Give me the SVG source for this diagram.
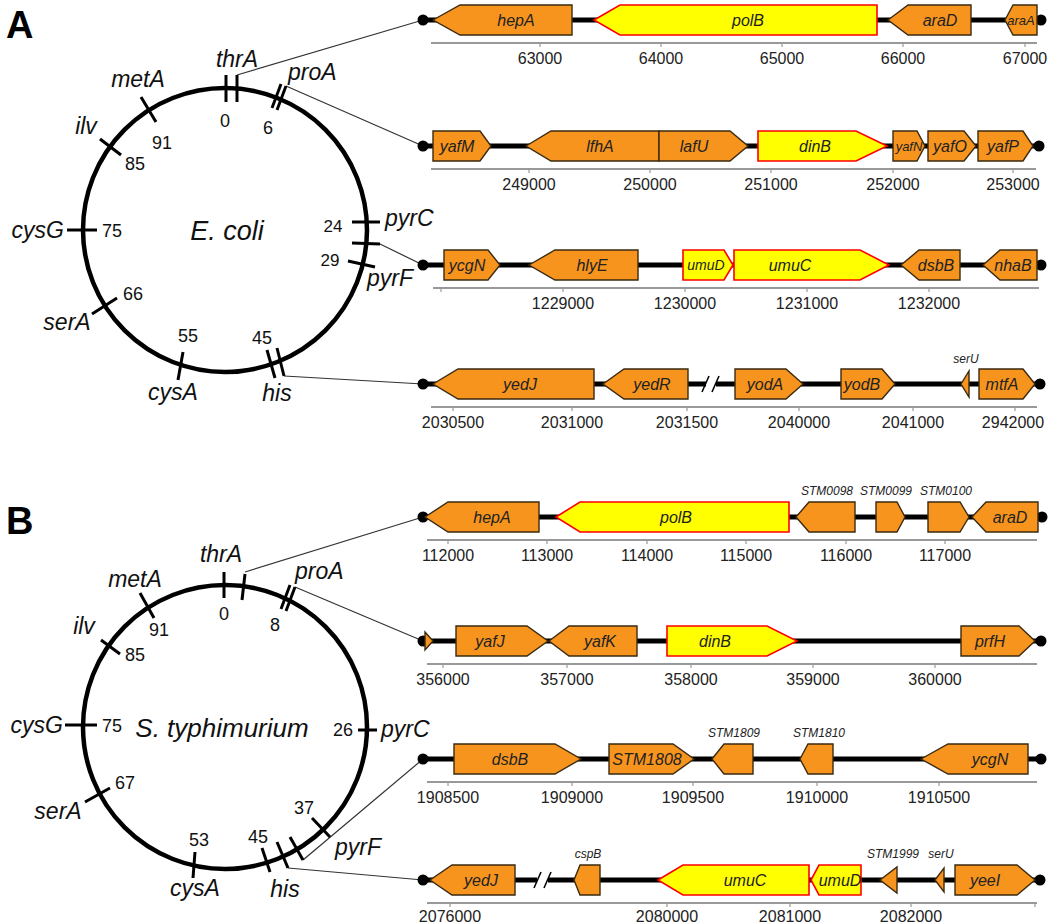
<svg xmlns="http://www.w3.org/2000/svg" width="1050" height="924" viewBox="0 0 1050 924">
<style>
.bg{fill:#fff}
.o{fill:#F7941D;stroke:#3a2a10;stroke-width:1.4;stroke-linejoin:miter}
.y{fill:#FFFF00;stroke:#FF0000;stroke-width:1.6}
.trk{stroke:#000;stroke-width:5;fill:none}
.dot{fill:#000}
.ax{stroke:#999;stroke-width:2;fill:none}
.axt{stroke:#999;stroke-width:1.2}
.gl{font-family:"Liberation Sans",Arial,sans-serif;font-style:italic;font-size:16px;fill:#222;text-anchor:middle}
.sl{font-family:"Liberation Sans",Arial,sans-serif;font-style:italic;font-size:12px;fill:#222;text-anchor:middle}
.tl{font-family:"Liberation Sans",Arial,sans-serif;font-size:16px;fill:#222;text-anchor:middle}
.cn{stroke:#333;stroke-width:1.2;fill:none}
.circ{fill:none;stroke:#000;stroke-width:4.5}
.ct{stroke:#000;stroke-width:3;fill:none}
.cl{font-family:"Liberation Sans",Arial,sans-serif;font-style:italic;font-size:23px;fill:#111}
.num{font-family:"Liberation Sans",Arial,sans-serif;font-size:18px;fill:#111;text-anchor:middle}
.sp{font-family:"Liberation Sans",Arial,sans-serif;font-style:italic;font-size:27px;fill:#111;text-anchor:middle}
.pl{font-family:"Liberation Sans",Arial,sans-serif;font-weight:bold;font-size:38px;fill:#000}
.m{text-anchor:middle}.s{text-anchor:start}.e{text-anchor:end}
</style>
<rect class="bg" x="0" y="0" width="1050" height="924"/>

<!-- Connectors -->
<g id="connectors">
<line class="cn" x1="237" y1="75" x2="423" y2="20"/>
<line class="cn" x1="286" y1="86" x2="423" y2="146"/>
<line class="cn" x1="380" y1="244" x2="423" y2="265"/>
<line class="cn" x1="284" y1="376" x2="423" y2="384"/>
<line class="cn" x1="245" y1="572" x2="423" y2="517"/>
<line class="cn" x1="295" y1="587" x2="423" y2="641"/>
<line class="cn" x1="303" y1="860" x2="423" y2="759"/>
<line class="cn" x1="288" y1="868" x2="423" y2="880"/>
</g>

<!-- Panel A circle -->
<g id="circleA">
<text class="pl" x="6" y="38">A</text>
<circle class="circ" cx="225" cy="230" r="142"/>
<line class="ct" x1="226" y1="75" x2="226" y2="102"/>
<line class="ct" x1="237" y1="75" x2="237" y2="102"/>
<line class="ct" x1="272" y1="108" x2="281" y2="84"/>
<line class="ct" x1="277" y1="110" x2="286" y2="86"/>
<line class="ct" x1="156" y1="122" x2="141" y2="97"/>
<line class="ct" x1="121" y1="155" x2="100" y2="139"/>
<line class="ct" x1="67" y1="230" x2="97" y2="230"/>
<line class="ct" x1="117" y1="298" x2="92" y2="314"/>
<line class="ct" x1="183" y1="352" x2="178" y2="380"/>
<line class="ct" x1="267" y1="350" x2="275" y2="378"/>
<line class="ct" x1="277" y1="348" x2="284" y2="376"/>
<line class="ct" x1="352" y1="222" x2="380" y2="222"/>
<line class="ct" x1="352" y1="243" x2="380" y2="244"/>
<line class="ct" x1="348" y1="261" x2="375" y2="267"/>
<text class="cl m" x="237" y="67">thrA</text>
<text class="num" x="225" y="127">0</text>
<text class="cl s" x="288" y="80">proA</text>
<text class="num" x="268" y="134">6</text>
<text class="cl m" x="138" y="87">metA</text>
<text class="num" x="162" y="149">91</text>
<text class="cl m" x="86" y="134">ilv</text>
<text class="num" x="135" y="170">85</text>
<text class="cl e" x="64" y="238">cysG</text>
<text class="num" x="112" y="237">75</text>
<text class="cl m" x="67" y="330">serA</text>
<text class="num" x="133" y="300">66</text>
<text class="cl m" x="173" y="400">cysA</text>
<text class="num" x="188" y="342">55</text>
<text class="cl m" x="277" y="401">his</text>
<text class="num" x="262" y="344">45</text>
<text class="sp" x="227" y="240">E. coli</text>
<text class="num" x="333" y="232" style="font-size:17px">24</text>
<text class="cl s" x="385" y="226">pyrC</text>
<text class="num" x="330" y="266" style="font-size:17px">29</text>
<text class="cl s" x="367" y="286">pyrF</text>
</g>

<!-- Panel B circle -->
<g id="circleB">
<text class="pl" x="6" y="534">B</text>
<circle class="circ" cx="225" cy="727" r="142"/>
<line class="ct" x1="224" y1="572" x2="224" y2="598"/>
<line class="ct" x1="245" y1="574" x2="242" y2="600"/>
<line class="ct" x1="281" y1="609" x2="290" y2="585"/>
<line class="ct" x1="286" y1="611" x2="295" y2="587"/>
<line class="ct" x1="154" y1="618" x2="140" y2="593"/>
<line class="ct" x1="120" y1="654" x2="101" y2="640"/>
<line class="ct" x1="65" y1="725" x2="97" y2="725"/>
<line class="ct" x1="110" y1="788" x2="85" y2="802"/>
<line class="ct" x1="195" y1="852" x2="193" y2="878"/>
<line class="ct" x1="262" y1="848" x2="270" y2="872"/>
<line class="ct" x1="277" y1="842" x2="288" y2="868"/>
<line class="ct" x1="290" y1="837" x2="303" y2="860"/>
<line class="ct" x1="312" y1="818" x2="330" y2="837"/>
<line class="ct" x1="358" y1="730" x2="377" y2="730"/>
<text class="cl m" x="221" y="562">thrA</text>
<text class="num" x="224" y="620">0</text>
<text class="cl s" x="295" y="579">proA</text>
<text class="num" x="275" y="631">8</text>
<text class="cl m" x="135" y="587">metA</text>
<text class="num" x="159" y="636">91</text>
<text class="cl m" x="84" y="634">ilv</text>
<text class="num" x="135" y="661">85</text>
<text class="cl e" x="63" y="733">cysG</text>
<text class="num" x="112" y="732">75</text>
<text class="sp" x="222" y="737" style="font-size:26px">S. typhimurium</text>
<text class="num" x="343" y="736">26</text>
<text class="cl s" x="381" y="737">pyrC</text>
<text class="num" x="125" y="789">67</text>
<text class="cl m" x="58" y="819">serA</text>
<text class="num" x="199" y="846">53</text>
<text class="cl m" x="195" y="896">cysA</text>
<text class="num" x="258" y="843">45</text>
<text class="cl m" x="285" y="897">his</text>
<text class="num" x="304" y="814">37</text>
<text class="cl s" x="335" y="855">pyrF</text>
</g>

<!-- Track A1 -->
<g id="trackA1">
<line class="trk" x1="423" y1="20" x2="1041" y2="20"/>
<circle class="dot" cx="423" cy="20" r="5.5"/><circle class="dot" cx="1041" cy="20" r="5.5"/>
<polygon class="o" points="433,20 460,5 572,5 572,35 460,35"/><text class="gl" x="516" y="26">hepA</text>
<polygon class="y" points="594,20 620,5 877,5 877,35 620,35"/><text class="gl" x="748" y="26">polB</text>
<polygon class="o" points="888,20 908,5 971,5 971,35 908,35"/><text class="gl" x="940" y="26">araD</text>
<polygon class="o" points="1005,20 1013,5 1037,5 1037,35 1013,35"/><text class="gl" x="1021" y="25" style="font-size:13px">araA</text>
<line class="ax" x1="431" y1="43" x2="1037" y2="43"/>
<g class="axt"><line x1="540" y1="43" x2="540" y2="47"/><line x1="661" y1="43" x2="661" y2="47"/><line x1="782" y1="43" x2="782" y2="47"/><line x1="903" y1="43" x2="903" y2="47"/><line x1="1025" y1="43" x2="1025" y2="47"/></g>
<text class="tl" x="540" y="64">63000</text><text class="tl" x="661" y="64">64000</text><text class="tl" x="782" y="64">65000</text><text class="tl" x="903" y="64">66000</text><text class="tl" x="1025" y="64">67000</text>
</g>

<!-- Track A2 -->
<g id="trackA2">
<line class="trk" x1="423" y1="146" x2="1039" y2="146"/>
<circle class="dot" cx="423" cy="146" r="5.5"/><circle class="dot" cx="1039" cy="146" r="5.5"/>
<polygon class="o" points="433,131 480,131 491,146 480,161 433,161"/><text class="gl" x="457" y="152">yafM</text>
<polygon class="o" points="526,146 551,131 659,131 659,161 551,161"/><text class="gl" x="600" y="152">lfhA</text>
<polygon class="o" points="659,131 730,131 748,146 730,161 659,161"/><text class="gl" x="694" y="152">lafU</text>
<polygon class="y" points="758,131 856,131 887,146 856,161 758,161"/><text class="gl" x="815" y="152">dinB</text>
<polygon class="o" points="893,131 917,131 925,146 917,161 893,161"/><text class="gl" x="909" y="151" style="font-size:13px">yafN</text>
<polygon class="o" points="928,131 964,131 976,146 964,161 928,161"/><text class="gl" x="950" y="152">yafO</text>
<polygon class="o" points="978,131 1023,131 1033,146 1023,161 978,161"/><text class="gl" x="1003" y="152">yafP</text>
<line class="ax" x1="431" y1="169" x2="1036" y2="169"/>
<g class="axt"><line x1="529" y1="169" x2="529" y2="173"/><line x1="650" y1="169" x2="650" y2="173"/><line x1="771" y1="169" x2="771" y2="173"/><line x1="893" y1="169" x2="893" y2="173"/><line x1="1013" y1="169" x2="1013" y2="173"/></g>
<text class="tl" x="529" y="190">249000</text><text class="tl" x="650" y="190">250000</text><text class="tl" x="771" y="190">251000</text><text class="tl" x="893" y="190">252000</text><text class="tl" x="1013" y="190">253000</text>
</g>

<!-- Track A3 -->
<g id="trackA3">
<line class="trk" x1="423" y1="265" x2="1041" y2="265"/>
<circle class="dot" cx="423" cy="265" r="5.5"/><circle class="dot" cx="1041" cy="265" r="5.5"/>
<polygon class="o" points="444,250 488,250 500,265 488,280 444,280"/><text class="gl" x="467" y="271">ycgN</text>
<polygon class="o" points="529,265 555,250 638,250 638,280 555,280"/><text class="gl" x="592" y="271">hlyE</text>
<polygon class="y" points="683,250 724,250 733,265 724,280 683,280"/><text class="gl" x="706" y="270" style="font-size:14px">umuD</text>
<polygon class="y" points="734,250 860,250 889,265 860,280 734,280"/><text class="gl" x="790" y="271">umuC</text>
<polygon class="o" points="901,265 919,250 960,250 960,280 919,280"/><text class="gl" x="936" y="271">dsbB</text>
<polygon class="o" points="983,265 1000,250 1037,250 1037,280 1000,280"/><text class="gl" x="1013" y="271">nhaB</text>
<line class="ax" x1="433" y1="288" x2="1039" y2="288"/>
<g class="axt"><line x1="441" y1="288" x2="441" y2="292"/><line x1="563" y1="288" x2="563" y2="292"/><line x1="685" y1="288" x2="685" y2="292"/><line x1="807" y1="288" x2="807" y2="292"/><line x1="929" y1="288" x2="929" y2="292"/></g>
<text class="tl" x="563" y="309">1229000</text><text class="tl" x="685" y="309">1230000</text><text class="tl" x="807" y="309">1231000</text><text class="tl" x="929" y="309">1232000</text>
</g>

<!-- Track A4 -->
<g id="trackA4">
<line class="trk" x1="423" y1="384" x2="706" y2="384"/>
<line class="trk" x1="716" y1="384" x2="1040" y2="384"/>
<line stroke="#000" stroke-width="1.6" x1="702" y1="392" x2="709" y2="376"/>
<line stroke="#000" stroke-width="1.6" x1="712" y1="392" x2="719" y2="376"/>
<circle class="dot" cx="423" cy="384" r="5.5"/><circle class="dot" cx="1040" cy="384" r="5.5"/>
<polygon class="o" points="433,384 458,369 594,369 594,399 458,399"/><text class="gl" x="520" y="390">yedJ</text>
<polygon class="o" points="603,384 624,369 688,369 688,399 624,399"/><text class="gl" x="652" y="390">yedR</text>
<polygon class="o" points="735,369 786,369 803,384 786,399 735,399"/><text class="gl" x="765" y="390">yodA</text>
<polygon class="o" points="841,369 882,369 895,384 882,399 841,399"/><text class="gl" x="862" y="390">yodB</text>
<polygon class="o" points="961,384 969,371 969,397"/><text class="sl" x="966" y="363">serU</text>
<polygon class="o" points="979,369 1023,369 1035,384 1023,399 979,399"/><text class="gl" x="1002" y="390">mtfA</text>
<line class="ax" x1="431" y1="407" x2="1037" y2="407"/>
<g class="axt"><line x1="453" y1="407" x2="453" y2="411"/><line x1="572" y1="407" x2="572" y2="411"/><line x1="687" y1="407" x2="687" y2="411"/><line x1="799" y1="407" x2="799" y2="411"/><line x1="913" y1="407" x2="913" y2="411"/><line x1="1015" y1="407" x2="1015" y2="411"/></g>
<text class="tl" x="453" y="428">2030500</text><text class="tl" x="572" y="428">2031000</text><text class="tl" x="687" y="428">2031500</text><text class="tl" x="799" y="428">2040000</text><text class="tl" x="913" y="428">2041000</text><text class="tl" x="1013" y="428">2942000</text>
</g>

<!-- Track B1 -->
<g id="trackB1">
<line class="trk" x1="423" y1="517" x2="1042" y2="517"/>
<circle class="dot" cx="423" cy="517" r="5.5"/><circle class="dot" cx="1042" cy="517" r="5.5"/>
<polygon class="o" points="425,517 448,502 539,502 539,532 448,532"/><text class="gl" x="492" y="523">hepA</text>
<polygon class="y" points="556,517 580,502 789,502 789,532 580,532"/><text class="gl" x="676" y="523">polB</text>
<polygon class="o" points="796,517 809,502 855,502 855,532 809,532"/><text class="sl" x="827" y="495">STM0098</text>
<polygon class="o" points="876,502 897,502 905,517 897,532 876,532"/><text class="sl" x="886" y="495">STM0099</text>
<polygon class="o" points="928,502 960,502 969,517 960,532 928,532"/><text class="sl" x="946" y="495">STM0100</text>
<polygon class="o" points="972,517 986,502 1038,502 1038,532 986,532"/><text class="gl" x="1010" y="523">araD</text>
<line class="ax" x1="427" y1="540" x2="1037" y2="540"/>
<g class="axt"><line x1="448" y1="540" x2="448" y2="544"/><line x1="547" y1="540" x2="547" y2="544"/><line x1="647" y1="540" x2="647" y2="544"/><line x1="746" y1="540" x2="746" y2="544"/><line x1="846" y1="540" x2="846" y2="544"/><line x1="945" y1="540" x2="945" y2="544"/></g>
<text class="tl" x="448" y="561">112000</text><text class="tl" x="547" y="561">113000</text><text class="tl" x="647" y="561">114000</text><text class="tl" x="746" y="561">115000</text><text class="tl" x="846" y="561">116000</text><text class="tl" x="945" y="561">117000</text>
</g>

<!-- Track B2 -->
<g id="trackB2">
<line class="trk" x1="423" y1="641" x2="1041" y2="641"/>
<circle class="dot" cx="423" cy="641" r="5.5"/><circle class="dot" cx="1041" cy="641" r="5.5"/>
<polygon class="o" points="425,632 433,641 425,650"/>
<polygon class="o" points="456,626 527,626 548,641 527,656 456,656"/><text class="gl" x="490" y="647">yafJ</text>
<polygon class="o" points="549,641 569,626 637,626 637,656 569,656"/><text class="gl" x="600" y="647">yafK</text>
<polygon class="y" points="667,626 767,626 797,641 767,656 667,656"/><text class="gl" x="715" y="647">dinB</text>
<polygon class="o" points="961,626 1019,626 1035,641 1019,656 961,656"/><text class="gl" x="990" y="647">prfH</text>
<line class="ax" x1="427" y1="664" x2="1037" y2="664"/>
<g class="axt"><line x1="443" y1="664" x2="443" y2="668"/><line x1="567" y1="664" x2="567" y2="668"/><line x1="691" y1="664" x2="691" y2="668"/><line x1="813" y1="664" x2="813" y2="668"/><line x1="935" y1="664" x2="935" y2="668"/></g>
<text class="tl" x="443" y="685">356000</text><text class="tl" x="567" y="685">357000</text><text class="tl" x="691" y="685">358000</text><text class="tl" x="813" y="685">359000</text><text class="tl" x="935" y="685">360000</text>
</g>

<!-- Track B3 -->
<g id="trackB3">
<line class="trk" x1="423" y1="759" x2="1041" y2="759"/>
<circle class="dot" cx="423" cy="759" r="5.5"/><circle class="dot" cx="1041" cy="759" r="5.5"/>
<polygon class="o" points="454,744 555,744 581,759 555,774 454,774"/><text class="gl" x="510" y="765">dsbB</text>
<polygon class="o" points="609,744 673,744 694,759 673,774 609,774"/><text class="gl" x="647" y="765">STM1808</text>
<polygon class="o" points="712,759 724,744 753,744 753,774 724,774"/><text class="sl" x="734" y="737">STM1809</text>
<polygon class="o" points="800,759 808,744 833,744 833,774 808,774"/><text class="sl" x="819" y="737">STM1810</text>
<polygon class="o" points="921,759 948,744 1028,744 1028,774 948,774"/><text class="gl" x="990" y="765">ycgN</text>
<line class="ax" x1="427" y1="782" x2="1037" y2="782"/>
<g class="axt"><line x1="448" y1="782" x2="448" y2="786"/><line x1="572" y1="782" x2="572" y2="786"/><line x1="693" y1="782" x2="693" y2="786"/><line x1="817" y1="782" x2="817" y2="786"/><line x1="939" y1="782" x2="939" y2="786"/></g>
<text class="tl" x="448" y="803">1908500</text><text class="tl" x="572" y="803">1909000</text><text class="tl" x="693" y="803">1909500</text><text class="tl" x="817" y="803">1910000</text><text class="tl" x="939" y="803">1910500</text>
</g>

<!-- Track B4 -->
<g id="trackB4">
<line class="trk" x1="423" y1="880" x2="537" y2="880"/>
<line class="trk" x1="548" y1="880" x2="1040" y2="880"/>
<line stroke="#000" stroke-width="1.6" x1="534" y1="888" x2="541" y2="872"/>
<line stroke="#000" stroke-width="1.6" x1="544" y1="888" x2="551" y2="872"/>
<circle class="dot" cx="423" cy="880" r="5.5"/><circle class="dot" cx="1040" cy="880" r="5.5"/>
<polygon class="o" points="430,880 452,865 515,865 515,895 452,895"/><text class="gl" x="481" y="886">yedJ</text>
<polygon class="o" points="574,880 580,865 600,865 600,895 580,895"/><text class="sl" x="588" y="858">cspB</text>
<polygon class="y" points="658,880 683,865 809,865 809,895 683,895"/><text class="gl" x="745" y="886">umuC</text>
<polygon class="y" points="811,880 819,865 861,865 861,895 819,895"/><text class="gl" x="840" y="886">umuD</text>
<polygon class="o" points="880,880 897,867 897,893"/><text class="sl" x="893" y="858">STM1999</text>
<polygon class="o" points="935,880 944,868 944,892"/><text class="sl" x="941" y="858">serU</text>
<polygon class="o" points="955,865 1017,865 1035,880 1017,895 955,895"/><text class="gl" x="985" y="886">yeeI</text>
<line class="ax" x1="427" y1="903" x2="1037" y2="903"/>
<g class="axt"><line x1="450" y1="903" x2="450" y2="907"/><line x1="667" y1="903" x2="667" y2="907"/><line x1="790" y1="903" x2="790" y2="907"/><line x1="911" y1="903" x2="911" y2="907"/><line x1="1035" y1="903" x2="1035" y2="907"/></g>
<text class="tl" x="450" y="922">2076000</text><text class="tl" x="667" y="922">2080000</text><text class="tl" x="790" y="922">2081000</text><text class="tl" x="911" y="922">2082000</text>
</g>
</svg>
